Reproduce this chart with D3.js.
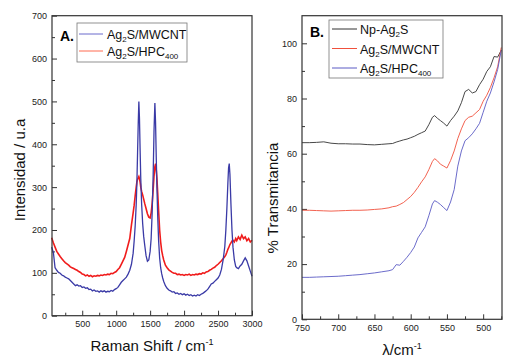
<!DOCTYPE html>
<html>
<head>
<meta charset="utf-8">
<script src="https://cdn.jsdelivr.net/npm/d3@7"></script>
<style>
  body { margin: 0; background: #fff; }
  svg { font-family: "Liberation Sans", Arial, sans-serif; }
  .tick text { font-size: 9px; fill: #222; }
  .tick line { stroke: #333; }
</style>
</head>
<body>
<div id="chart"></div>
<script>
// Panel A - Raman spectra
var ramanShift = [50,75,100,125,150,175,200,225,250,275,300,325,350,375,400,425,450,475,500,525,550,575,600,625,650,675,700,725,750,775,800,825,850,875,900,925,950,975,1000,1025,1050,1075,1100,1125,1150,1175,1200,1225,1250,1265,1280,1295,1305,1315,1325,1334,1343,1352,1362,1375,1390,1405,1420,1440,1460,1480,1500,1515,1530,1545,1557,1570,1580,1590,1600,1612,1625,1640,1655,1670,1685,1700,1725,1750,1775,1800,1825,1850,1875,1900,1925,1950,1975,2000,2025,2050,2075,2100,2125,2150,2175,2200,2225,2250,2275,2300,2325,2350,2375,2400,2425,2450,2475,2500,2525,2550,2575,2600,2615,2630,2645,2655,2665,2675,2690,2705,2720,2740,2760,2775,2800,2825,2850,2875,2900,2925,2950,2975,3000];

var ramanMWCNT = [160,148,112,106,101,99,95,93,90,88,86,82,78,74,70,72,69,70,66,67,64,65,61,62,58,60,57,58,55,58,56,58,55,57,56,59,57,61,63,66,72,78,82,86,90,97,106,120,146,175,210,260,310,380,450,500,460,390,320,260,215,185,165,140,127,130,150,180,240,330,430,496,450,370,300,230,175,135,112,98,88,80,70,64,60,58,55,56,52,53,50,52,49,51,48,50,47,49,46,48,46,49,47,50,52,55,58,62,68,74,76,80,84,88,95,108,130,162,200,250,310,345,355,330,260,200,160,130,115,112,110,116,120,128,135,128,116,104,92];

var ramanHPC = [182,170,160,150,144,138,133,128,124,121,118,114,112,110,108,106,103,101,97,96,93,95,92,94,91,93,92,94,93,95,94,96,95,97,96,99,98,101,103,108,112,120,128,136,150,165,180,212,240,258,280,300,312,318,322,325,320,312,300,290,282,272,262,250,238,230,228,240,262,295,325,348,355,340,320,285,245,200,172,152,140,130,118,112,107,104,101,99,99,96,97,95,96,94,96,95,97,94,96,95,97,96,98,97,100,99,102,103,106,108,111,113,117,120,124,128,133,138,142,148,155,158,162,166,170,174,176,172,180,175,184,178,188,180,184,175,180,172,176];

var ramanXTicks = [500,1000,1500,2000,2500,3000];
var ramanYTicks = [0,100,200,300,400,500,600,700];

// Panel B - transmittance
var wavenumber = [750,740,730,720,710,700,690,680,670,660,650,640,630,625,620,615,610,605,600,595,590,585,580,575,570,567,563,559,555,550,545,540,535,530,525,520,515,510,505,500,495,490,485,480,475];

var transNp = [64.0,64.0,64.1,64.3,63.8,63.6,63.6,63.5,63.5,63.3,63.2,63.4,63.6,63.7,64.2,64.6,65.0,65.3,65.8,66.3,67.0,67.6,68.2,70.5,73.2,73.8,72.8,72.0,71.2,70.0,72.0,73.6,75.5,78.5,82.5,83.3,82.0,82.5,85.0,87.0,89.8,91.5,95.2,95.0,97.5];

var transMWCNT = [39.5,39.5,39.4,39.3,39.2,39.3,39.4,39.5,39.5,39.6,39.8,40.0,40.4,40.8,41.0,41.6,42.3,43.4,44.5,46.0,47.8,49.8,51.6,54.2,57.2,58.2,57.4,56.2,55.6,54.8,57.5,61.0,65.5,69.0,72.0,73.2,73.6,74.8,76.0,79.0,81.2,84.0,87.5,91.5,98.5];

var transHPC = [15.2,15.2,15.3,15.4,15.5,15.6,15.8,16.0,16.2,16.5,16.8,17.2,17.6,18.0,19.8,19.6,21.0,22.5,24.2,26.2,29.5,31.5,33.5,37.5,41.8,43.0,42.4,41.6,40.6,39.4,42.5,47.0,55.5,61.0,64.7,65.8,67.2,69.0,71.0,75.0,79.0,82.0,86.0,90.5,97.5];

var transXTicks = [750,700,650,600,550,500];
var transYTicks = [0,20,40,60,80,100];

var width = 508, height = 361;
var fmt = d3.format("d");

var svg = d3.select("#chart").append("svg")
    .attr("width", width)
    .attr("height", height);

function noDomain(g) { g.select(".domain").remove(); }

// ---------- Panel A ----------
var xA = d3.scaleLinear().domain([55, 3000]).range([52, 252]);
var yA = d3.scaleLinear().domain([0, 700]).range([315.7, 15.7]);

var gA = svg.append("g");

// minor ticks
gA.append("g")
    .attr("transform", "translate(0," + yA(0) + ")")
    .call(d3.axisBottom(xA).tickValues(d3.range(250, 3000, 500)).tickSize(-3).tickFormat(""))
    .call(noDomain);
gA.append("g")
    .attr("transform", "translate(" + xA.range()[0] + ",0)")
    .call(d3.axisLeft(yA).tickValues(d3.range(50, 700, 100)).tickSize(-3).tickFormat(""))
    .call(noDomain);

// major ticks
gA.append("g")
    .attr("transform", "translate(0," + yA(0) + ")")
    .call(d3.axisBottom(xA).tickValues(ramanXTicks).tickFormat(fmt).tickSize(-5).tickPadding(5))
    .call(noDomain);
gA.append("g")
    .attr("transform", "translate(" + xA.range()[0] + ",0)")
    .call(d3.axisLeft(yA).tickValues(ramanYTicks).tickFormat(fmt).tickSize(-5).tickPadding(5))
    .call(noDomain);

var lineA = d3.line()
    .x(function (d) { return xA(d[0]); })
    .y(function (d) { return yA(d[1]); });

gA.append("path")
    .datum(d3.zip(ramanShift, ramanHPC))
    .attr("d", lineA)
    .attr("fill", "none")
    .attr("stroke", "#f01c1c")
    .attr("stroke-width", 1.6);

gA.append("path")
    .datum(d3.zip(ramanShift, ramanMWCNT))
    .attr("d", lineA)
    .attr("fill", "none")
    .attr("stroke", "#3a3aa6")
    .attr("stroke-width", 1.3);

gA.append("rect")
    .attr("x", 52).attr("y", 15.7)
    .attr("width", 200).attr("height", 300)
    .attr("fill", "none").attr("stroke", "#333").attr("stroke-width", 1.2);

// ---------- Panel B ----------
var xB = d3.scaleLinear().domain([750, 474]).range([302, 502]);
var yB = d3.scaleLinear().domain([0, 110]).range([319.3, 15.7]);

var gB = svg.append("g");

gB.append("g")
    .attr("transform", "translate(0," + yB(0) + ")")
    .call(d3.axisBottom(xB).tickValues(d3.range(725, 474, -50)).tickSize(-3).tickFormat(""))
    .call(noDomain);
gB.append("g")
    .attr("transform", "translate(" + xB.range()[0] + ",0)")
    .call(d3.axisLeft(yB).tickValues(d3.range(10, 110, 20)).tickSize(-3).tickFormat(""))
    .call(noDomain);

gB.append("g")
    .attr("transform", "translate(0," + yB(0) + ")")
    .call(d3.axisBottom(xB).tickValues(transXTicks).tickFormat(fmt).tickSize(-5).tickPadding(5))
    .call(noDomain);
gB.append("g")
    .attr("transform", "translate(" + xB.range()[0] + ",0)")
    .call(d3.axisLeft(yB).tickValues(transYTicks).tickFormat(fmt).tickSize(-5).tickPadding(5))
    .call(noDomain);

var lineB = d3.line()
    .x(function (d) { return xB(d[0]); })
    .y(function (d) { return yB(d[1]); });

var transSeries = [
    { values: transNp, color: "#333333" },
    { values: transMWCNT, color: "#f0503c" },
    { values: transHPC, color: "#5a5ac4" }
];

gB.selectAll(".tline")
    .data(transSeries).enter()
    .append("path")
    .attr("class", "tline")
    .attr("d", function (d) { return lineB(d3.zip(wavenumber, d.values)); })
    .attr("fill", "none")
    .attr("stroke", function (d) { return d.color; })
    .attr("stroke-width", 0.9);

gB.append("rect")
    .attr("x", 302).attr("y", 15.7)
    .attr("width", 200).attr("height", 303.6)
    .attr("fill", "none").attr("stroke", "#333").attr("stroke-width", 1.2);

// ---------- Axis titles ----------
var t1 = svg.append("text").attr("x", 152).attr("y", 351)
    .attr("text-anchor", "middle").style("font-size", "15px").style("fill", "#111");
t1.append("tspan").text("Raman Shift / cm");
t1.append("tspan").attr("dy", -6).style("font-size", "9px").text("-1");

var t2 = svg.append("text").attr("x", 402).attr("y", 355)
    .attr("text-anchor", "middle").style("font-size", "15px").style("fill", "#111");
t2.append("tspan").text("\u03bb/cm");
t2.append("tspan").attr("dy", -6).style("font-size", "9px").text("-1");

svg.append("text")
    .attr("transform", "translate(25,170) rotate(-90)")
    .attr("text-anchor", "middle").style("font-size", "15px").style("fill", "#111")
    .text("Intensidad / u.a");

svg.append("text")
    .attr("transform", "translate(278,198) rotate(-90)")
    .attr("text-anchor", "middle").style("font-size", "15px").style("fill", "#111")
    .text("% Transmitancia");

// ---------- Legends ----------
// parts: plain strings, or {sub: "..."} for subscripts
function addLabel(g, x, y, parts) {
    var t = g.append("text").attr("x", x).attr("y", y)
        .style("font-size", "12.5px").style("fill", "#111");
    var lowered = false;
    parts.forEach(function (p) {
        if (typeof p === "string") {
            t.append("tspan").attr("dy", lowered ? -3 : 0).text(p);
            lowered = false;
        } else {
            t.append("tspan").attr("dy", 3).style("font-size", "8px").text(p.sub);
            lowered = true;
        }
    });
}

svg.append("text").attr("x", 60).attr("y", 41)
    .style("font-size", "14px").style("font-weight", "bold").text("A.");

var legA = svg.append("g");
legA.append("rect").attr("x", 77).attr("y", 23).attr("width", 110).attr("height", 39)
    .attr("fill", "#fff").attr("stroke", "#777").attr("stroke-width", 0.8);
var legAItems = [
    { color: "#6a6acc", parts: ["Ag", { sub: "2" }, "S/MWCNT"] },
    { color: "#ff6a50", parts: ["Ag", { sub: "2" }, "S/HPC", { sub: "400" }] }
];
legAItems.forEach(function (d, i) {
    var y = 34 + i * 17;
    legA.append("line").attr("x1", 79).attr("x2", 103).attr("y1", y).attr("y2", y)
        .attr("stroke", d.color).attr("stroke-width", 1);
    addLabel(legA, 107, y + 5, d.parts);
});

svg.append("text").attr("x", 310).attr("y", 37)
    .style("font-size", "14px").style("font-weight", "bold").text("B.");

var legB = svg.append("g");
legB.append("rect").attr("x", 329).attr("y", 20).attr("width", 114).attr("height", 58)
    .attr("fill", "#fff").attr("stroke", "#777").attr("stroke-width", 0.8);
var legBItems = [
    { color: "#333333", parts: ["Np-Ag", { sub: "2" }, "S"] },
    { color: "#f0503c", parts: ["Ag", { sub: "2" }, "S/MWCNT"] },
    { color: "#5a5ac4", parts: ["Ag", { sub: "2" }, "S/HPC", { sub: "400" }] }
];
legBItems.forEach(function (d, i) {
    var y = 29 + i * 19.5;
    legB.append("line").attr("x1", 332).attr("x2", 357).attr("y1", y).attr("y2", y)
        .attr("stroke", d.color).attr("stroke-width", 1);
    addLabel(legB, 360, y + 5, d.parts);
});
</script>
</body>
</html>
